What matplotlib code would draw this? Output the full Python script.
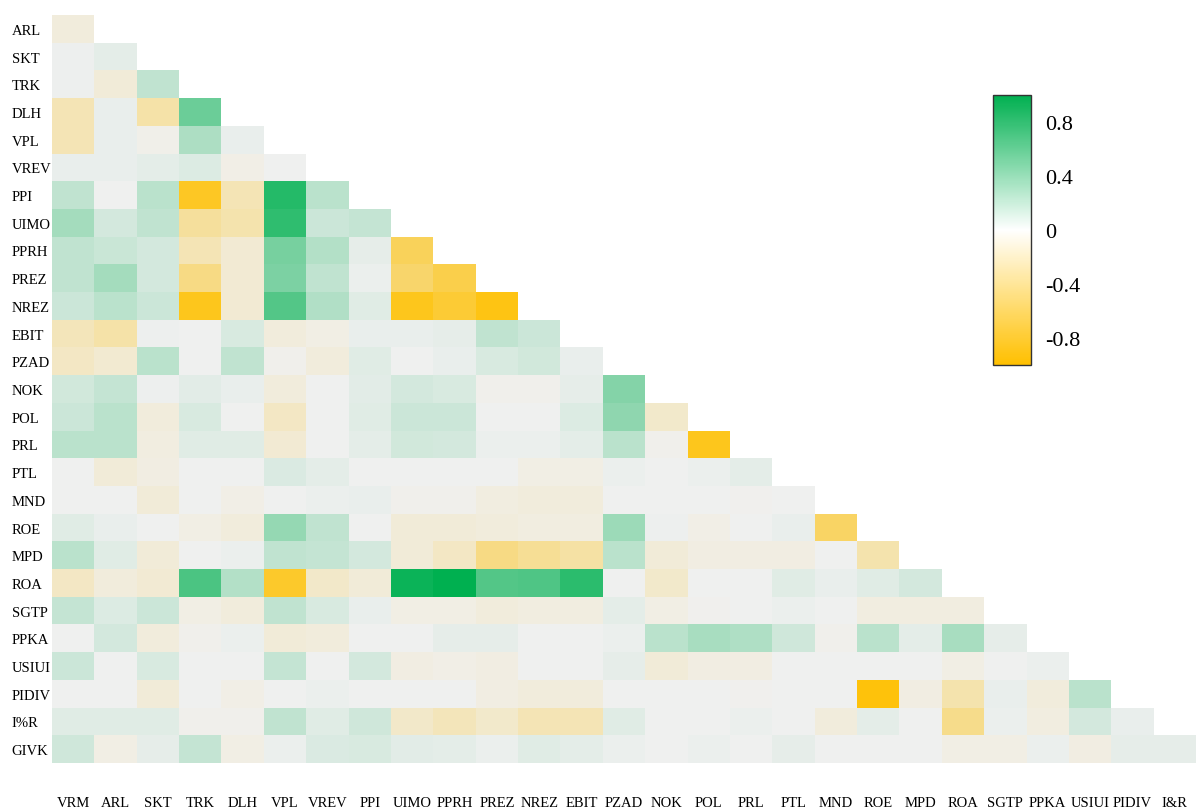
import numpy as np
import matplotlib
matplotlib.use("Agg")
import matplotlib.pyplot as plt
from matplotlib.colors import LinearSegmentedColormap, Normalize
from matplotlib.cm import ScalarMappable

plt.rcParams['font.family'] = ['Liberation Serif', 'DejaVu Serif']

row_labels = ['ARL', 'SKT', 'TRK', 'DLH', 'VPL', 'VREV', 'PPI', 'UIMO', 'PPRH',
              'PREZ', 'NREZ', 'EBIT', 'PZAD', 'NOK', 'POL', 'PRL', 'PTL', 'MND',
              'ROE', 'MPD', 'ROA', 'SGTP', 'PPKA', 'USIUI', 'PIDIV', 'I%R', 'GIVK']
col_labels = ['VRM', 'ARL', 'SKT', 'TRK', 'DLH', 'VPL', 'VREV', 'PPI', 'UIMO',
              'PPRH', 'PREZ', 'NREZ', 'EBIT', 'PZAD', 'NOK', 'POL', 'PRL', 'PTL',
              'MND', 'ROE', 'MPD', 'ROA', 'SGTP', 'PPKA', 'USIUI', 'PIDIV', 'I&R']

# lower triangle of the correlation matrix, one list per row
corr_rows = [
    [-0.08],
    [0.01, 0.05],
    [0.01, -0.10, 0.20],
    [-0.25, 0.03, -0.30, 0.55],
    [-0.25, 0.03, -0.03, 0.28, 0.03],
    [0.03, 0.03, 0.05, 0.08, -0.04, 0.00],
    [0.20, 0.00, 0.22, -0.85, -0.25, 0.85, 0.22],
    [0.32, 0.12, 0.20, -0.35, -0.28, 0.80, 0.15, 0.18],
    [0.20, 0.16, 0.12, -0.25, -0.12, 0.50, 0.25, 0.04, -0.62],
    [0.20, 0.32, 0.12, -0.45, -0.12, 0.48, 0.20, 0.02, -0.55, -0.68],
    [0.15, 0.22, 0.15, -0.88, -0.12, 0.65, 0.26, 0.07, -0.88, -0.78, -0.92],
    [-0.22, -0.30, 0.01, 0.00, 0.10, -0.08, -0.05, 0.03, 0.03, 0.04, 0.20, 0.15],
    [-0.18, -0.13, 0.22, 0.00, 0.20, -0.02, -0.08, 0.07, 0.00, 0.03, 0.10, 0.13,
     0.03],
    [0.13, 0.18, 0.01, 0.06, 0.03, -0.08, 0.00, 0.06, 0.12, 0.10, -0.02, -0.02,
     0.04, 0.45],
    [0.15, 0.22, -0.08, 0.10, 0.00, -0.18, 0.00, 0.07, 0.15, 0.15, 0.00, 0.00,
     0.08, 0.40, -0.15],
    [0.22, 0.22, -0.07, 0.07, 0.07, -0.12, 0.00, 0.05, 0.13, 0.12, 0.02, 0.02,
     0.05, 0.22, -0.02, -0.88],
    [0.00, -0.10, -0.06, 0.00, 0.00, 0.09, 0.05, 0.00, 0.00, 0.00, 0.00, -0.05,
     -0.05, 0.02, 0.00, 0.02, 0.05],
    [0.00, 0.00, -0.10, 0.00, -0.04, 0.00, 0.02, 0.03, -0.02, -0.02, -0.07, -0.08,
     -0.08, 0.00, 0.00, 0.00, -0.01, 0.00],
    [0.07, 0.03, 0.00, -0.05, -0.08, 0.38, 0.20, 0.00, -0.10, -0.10, -0.08, -0.07,
     -0.07, 0.35, 0.01, -0.04, 0.00, 0.03, -0.58],
    [0.22, 0.07, -0.10, 0.00, 0.02, 0.20, 0.18, 0.12, -0.10, -0.18, -0.45, -0.38,
     -0.32, 0.22, -0.10, -0.06, -0.06, -0.06, 0.00, -0.28],
    [-0.18, -0.08, -0.12, 0.68, 0.25, -0.82, -0.16, -0.10, 0.95, 1.00, 0.65, 0.67,
     0.82, 0.00, -0.15, 0.00, 0.00, 0.07, 0.03, 0.07, 0.12],
    [0.18, 0.08, 0.15, -0.05, -0.08, 0.20, 0.10, 0.03, -0.05, -0.05, -0.08, -0.07,
     -0.07, 0.05, -0.05, -0.01, 0.00, 0.02, 0.00, -0.07, -0.07, -0.07],
    [0.00, 0.12, -0.08, -0.02, 0.02, -0.10, -0.08, 0.00, 0.00, 0.04, 0.04, 0.00,
     0.00, 0.02, 0.22, 0.30, 0.27, 0.14, -0.02, 0.22, 0.05, 0.30, 0.04],
    [0.15, 0.00, 0.10, 0.00, 0.00, 0.18, 0.00, 0.12, -0.06, -0.04, -0.06, 0.00,
     0.00, 0.04, -0.10, -0.06, -0.06, 0.00, 0.00, 0.00, 0.00, -0.05, 0.00, 0.02],
    [0.00, 0.00, -0.10, 0.00, -0.04, 0.00, 0.02, 0.00, 0.00, 0.00, -0.06, -0.08,
     -0.08, 0.00, 0.00, 0.00, -0.01, 0.00, 0.00, -0.95, -0.06, -0.28, 0.03, -0.08,
     0.22],
    [0.07, 0.07, 0.07, -0.02, -0.02, 0.20, 0.07, 0.14, -0.16, -0.22, -0.15, -0.25,
     -0.25, 0.07, 0.00, 0.00, 0.02, 0.00, -0.08, 0.05, 0.00, -0.42, 0.02, -0.07,
     0.12, 0.03],
    [0.14, -0.05, 0.04, 0.18, -0.05, 0.02, 0.09, 0.10, 0.06, 0.05, 0.02, 0.07,
     0.05, 0.02, 0.00, 0.02, 0.00, 0.04, 0.00, 0.00, 0.00, -0.05, -0.05, 0.02,
     -0.06, 0.04, 0.04],
]

cbar_ticks = [0.8, 0.4, 0, -0.4, -0.8]
cbar_ticklabels = ['0.8', '0.4', '0', '-0.4', '-0.8']

n = len(row_labels)
mat = np.full((n, n), np.nan)
for i, row in enumerate(corr_rows):
    mat[i, :len(row)] = row

cell_cmap = LinearSegmentedColormap.from_list(
    'gold_green', ['#FFC000', '#F0F0F0', '#00B050'])
bar_cmap = LinearSegmentedColormap.from_list(
    'gold_green_bar', ['#FFC000', '#FFFFFF', '#00B050'])

fig = plt.figure(figsize=(11.96, 8.12), dpi=100)
ax = fig.add_axes([52 / 1196, 48 / 812, 1 - 52 / 1196, 748 / 812])
ax.pcolormesh(np.ma.masked_invalid(mat), cmap=cell_cmap, vmin=-1, vmax=1)
ax.set_xlim(0, n)
ax.set_ylim(n, 0)
for s in ax.spines.values():
    s.set_visible(False)

ax.set_xticks(np.arange(n) + 0.5)
ax.set_xticklabels(col_labels, fontsize=10.5)
ax.set_yticks(np.arange(n) + 0.5)
ax.set_yticklabels(row_labels, fontsize=10.5, ha='left')
ax.tick_params(axis='x', length=0, pad=24)
ax.tick_params(axis='y', length=0, pad=29)

cax = fig.add_axes([993 / 1196, 446 / 812, 38 / 1196, 270 / 812])
cb = fig.colorbar(ScalarMappable(norm=Normalize(-1, 1), cmap=bar_cmap), cax=cax)
cb.set_ticks(cbar_ticks)
cb.set_ticklabels(cbar_ticklabels)
cb.ax.tick_params(length=0, pad=10, labelsize=16)
cb.outline.set_edgecolor('#333333')
cb.outline.set_linewidth(1)

fig.savefig('out.png', dpi=100)
